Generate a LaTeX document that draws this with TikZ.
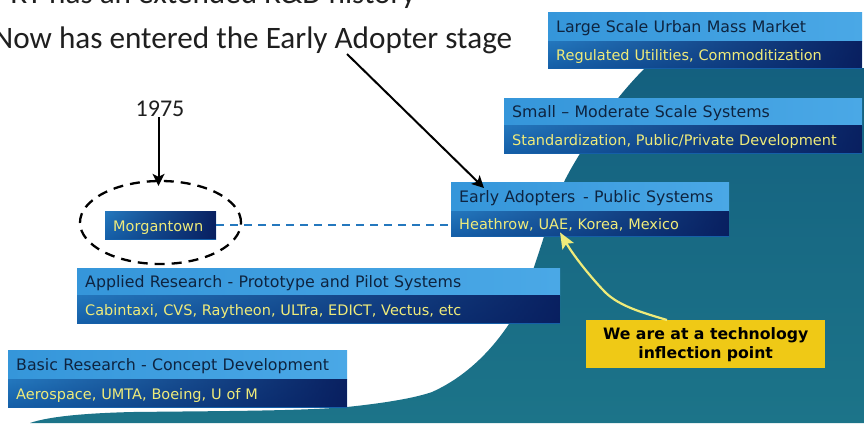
\documentclass[tikz,border=0pt]{standalone}
\usepackage{fontspec}
\setmainfont{Carlito}
\newfontfamily\boxfont{DejaVu Sans}
\usetikzlibrary{arrows.meta,shapes.geometric,shadings,fadings}
\definecolor{teal1}{HTML}{14607F}
\definecolor{teal2}{HTML}{1C7489}
\definecolor{barleft}{HTML}{3596DA}
\definecolor{barlight}{HTML}{4AA8E6}
\definecolor{barlow}{HTML}{2478BE}
\definecolor{barmid}{HTML}{155FA8}
\definecolor{barnavy}{HTML}{081C5C}
\definecolor{titleink}{HTML}{0E2440}
\definecolor{subink}{HTML}{EFEB7A}
\definecolor{note}{HTML}{EFC916}
\tikzfading[name=barfade,left color=transparent!100,middle color=transparent!65,right color=transparent!5]
\tikzset{
  x=1pt,y=-1pt,
  upperbar/.style={anchor=north west,left color=barleft,right color=barlight,text=titleink,font=\boxfont\fontsize{15.8}{18}\selectfont,inner xsep=8pt,inner ysep=0pt,text height=12pt,text depth=0pt,minimum height=#1},
  lowerbar/.style={anchor=north west,top color=barlow,bottom color=barmid,text=subink,font=\boxfont\fontsize{14.5}{17}\selectfont,inner xsep=8pt,inner ysep=0pt,text height=12pt,text depth=0pt,minimum height=#1,
    path picture={\fill[barnavy,path fading=barfade] (path picture bounding box.south west) rectangle (path picture bounding box.north east);}},
  heading/.style={anchor=base west,inner sep=0pt,text=black!88,font=\fontsize{31.2}{36}\selectfont},
  blackarrow/.style={draw=black,line width=2pt,-{Stealth[length=12pt,width=12pt,inset=3pt]}},
  noteline/.style={draw=subink,line width=2.2pt,-{Stealth[length=16pt,width=13pt,inset=3pt]}},
}
\begin{document}
\begin{tikzpicture}
\useasboundingbox (0,0) rectangle (864,423);
\fill[white] (0,0) rectangle (864,423);
% teal hill
\path[top color=teal1,bottom color=teal2]
  (30,423) .. controls (50,416) and (90,413) .. (133,412)
  .. controls (220,411) and (300,411) .. (347,407)
  .. controls (385,403) and (415,398) .. (432,392)
  .. controls (470,375) and (495,345) .. (509,324)
  .. controls (520,306) and (530,280) .. (534,267)
  .. controls (540,250) and (555,200) .. (564,182)
  .. controls (572,165) and (600,120) .. (619,97)
  .. controls (627,87) and (637,76) .. (645,68)
  -- (864,68) -- (864,423) -- cycle;
% heading
\node[heading] (line1) at (-6,3) {PRT has an extended R\&D history};
\node[heading] (line2) at (-7,48) {Now has entered the Early Adopter stage};
% bars
\node[upperbar=29pt,text width=298pt] (largeT) at (548,12) {Large Scale Urban Mass Market};
\node[lowerbar=27pt,text width=298pt] (largeB) at (548,41) {Regulated Utilities, Commoditization};
\node[upperbar=27pt,text width=342pt] (smallT) at (504,98) {Small – Moderate Scale Systems};
\node[lowerbar=28pt,text width=342pt] (smallB) at (504,125) {Standardization, Public/Private Development};
\node[upperbar=29pt,text width=262pt] (earlyT) at (451,182) {Early Adopters\, - Public Systems};
\node[lowerbar=25pt,text width=262pt] (earlyB) at (451,211) {Heathrow, UAE, Korea, Mexico};
\node[upperbar=27pt,text width=467pt] (appliedT) at (77,268) {Applied Research - Prototype and Pilot Systems};
\node[lowerbar=28pt,text width=467pt] (appliedB) at (77,295) {Cabintaxi, CVS, Raytheon, ULTra, EDICT, Vectus, etc};
\node[upperbar=29pt,text width=323pt] (basicT) at (8,350) {Basic Research - Concept Development};
\node[lowerbar=28pt,text width=323pt] (basicB) at (8,379) {Aerospace, UMTA, Boeing, U of M};
\node[lowerbar=28pt,text width=95pt] (morgan) at (105,211) {Morgantown};
% yellow note
\node[anchor=north west,fill=note,text=black,inner sep=0pt,minimum width=239pt,minimum height=48pt,align=center,font=\boxfont\bfseries\fontsize{15.7}{19}\selectfont] (noteb) at (586,320) {We are at a technology\\inflection point\hspace{26pt}};
% ellipse
\node[ellipse,draw=black,line width=2.3pt,dash pattern=on 10pt off 7pt,minimum width=161pt,minimum height=83pt,inner sep=0pt] (oval) at (160.5,222.5) {};
% year
\node[anchor=base,inner sep=1pt,text=black!88,font=\fontsize{24}{28}\selectfont] (year) at (160,116) {1975};
% connectors
\draw[blackarrow] ([xshift=-2pt]year.south -| oval.north) -- ([xshift=-2pt,yshift=-6pt]oval.north);
\coordinate (adopterfoot) at (347,54);
\draw[blackarrow] (adopterfoot) -- ([xshift=33pt,yshift=-6pt]earlyT.north west);
\draw[draw=barlow,line width=2.4pt,dash pattern=on 8pt off 6pt] (morgan.east) -- (morgan.east -| earlyB.west);
\draw[noteline] ([xshift=81pt]noteb.north west) .. controls (640,312) and (620,306) .. (606,293) .. controls (594,281) and (575,258) .. ([xshift=109pt,yshift=4pt]earlyB.south west);
\end{tikzpicture}
\end{document}
